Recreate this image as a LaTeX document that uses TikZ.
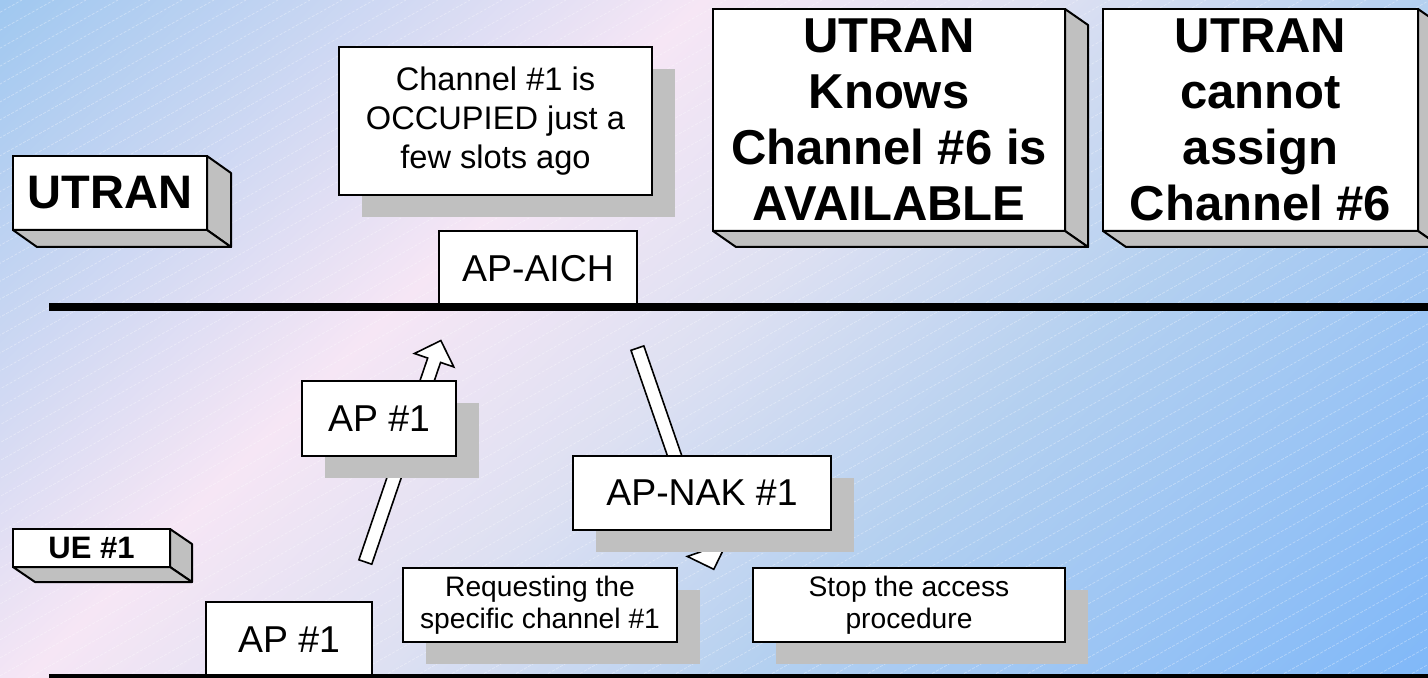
\documentclass[tikz,border=0pt]{standalone}
\usepackage{fontspec}
\setmainfont{Liberation Sans}
\usetikzlibrary{calc,%
	shapes.arrows,%
	shadows}

\definecolor{bgblueA}{HTML}{A0C8F0}
\definecolor{bgblueB}{HTML}{80B8F8}
\definecolor{bglight}{HTML}{B4D0F0}
\definecolor{bglav}{HTML}{DDE0F2}
\definecolor{bgpink}{HTML}{F6E6F5}
\definecolor{facegray}{HTML}{C0C0C0}
\definecolor{shadowgray}{HTML}{C0C0C0}

\pgfdeclareverticalshading{bgshade}{100bp}{color(0bp)=(bgblueB); color(23.9bp)=(bgblueB);
	color(40.7bp)=(bglight); color(50bp)=(bglav); color(58.7bp)=(bgpink);
	color(76.1bp)=(bgblueA); color(100bp)=(bgblueA)}

\newcommand{\fsz}[2]{\fontsize{#1}{#2}\selectfont}
\newcommand{\boxbevel}[3]{%
	\draw[face] (#1.north east) -- ++(#2,#3) -- ($(#1.south east)+(#2,#3)$) -- (#1.south east) -- cycle;
	\draw[face] (#1.south west) -- (#1.south east) -- ++(#2,#3) -- ($(#1.south west)+(#2,#3)$) -- cycle;}

\begin{document}
\begin{tikzpicture}[x=0.5pt,y=-0.5pt,
		front/.style={draw, fill=white, line width=1pt, inner sep=0pt, outer sep=0pt, align=center},
		shadowbox/.style={front, drop shadow={shadow xshift=11.5pt, shadow yshift=-11pt, fill=shadowgray, opacity=1}},
		face/.style={draw, fill=facegray, line width=1pt, line join=round},
		rail/.style={line width=4pt},
		hatch/.style={white, opacity=0.35, line width=0.35pt, dash pattern=on 1.5pt off 0.8pt},
		blockarrow/.style={single arrow, draw, fill=white, line width=0.8pt, inner sep=3pt,
			single arrow head extend=7pt, minimum width=20pt, minimum height=117pt, sloped, allow upside down}]
			
			\useasboundingbox (0,0) rectangle (1428,678);
			\clip (0,0) rectangle (1428,678);
			% background
			\shade[shading=bgshade, shading angle=45] (0,-375) rectangle (1428,1053);
			\foreach \i in {0,...,84}
				\draw[hatch] ({-1220+32*\i},678) -- ++(1210,-678);
			
			% block arrows
			\coordinate (upS) at (364,566);
			\coordinate (upE) at (440,343);
			\coordinate (dnS) at (636,344);
			\coordinate (dnE) at (713,567);
			\path (upS) -- (upE) node[blockarrow, midway] (uparr) {};
			\path (dnS) -- (dnE) node[blockarrow, midway] (dnarr) {};
			
			% UTRAN side
			\node[front, minimum width=97pt, minimum height=37pt, font=\fsz{23.5}{26}\bfseries] (utran) at (110,193) {UTRAN};
			\node[front, minimum width=176pt, minimum height=111pt, font=\fsz{24.5}{28}\bfseries] (knows) at (889,120)
				{UTRAN\\Knows\\Channel \#6 is\\AVAILABLE};
			\node[front, minimum width=157.5pt, minimum height=111pt, font=\fsz{24.5}{28}\bfseries] (cannot) at (1260.5,120)
				{UTRAN\\cannot\\assign\\Channel \#6};
			\node[shadowbox, minimum width=156.5pt, minimum height=74pt, font=\fsz{16.3}{19.5}] (occupied) at (495.5,121)
				{Channel \#1 is\\OCCUPIED just a\\few slots ago};
			\node[front, minimum width=99pt, minimum height=38pt, font=\fsz{18.7}{20}] (aich) at (538,269) {AP-AICH};
			
			% messages
			\node[shadowbox, minimum width=77pt, minimum height=37.5pt, font=\fsz{18.7}{20}] (apup) at (379,418.5) {AP \#1};
			\node[shadowbox, minimum width=129pt, minimum height=37pt, font=\fsz{18.7}{20}] (nak) at (702,493) {AP-NAK \#1};
			\node[shadowbox, minimum width=137pt, minimum height=37pt, font=\fsz{14.1}{16}] (req) at (540,605)
				{Requesting the\\specific channel \#1};
			\node[shadowbox, minimum width=156pt, minimum height=37pt, font=\fsz{14.1}{16}] (stop) at (909,605)
				{Stop the access\\procedure};
			
			% UE side
			\node[front, minimum width=78.5pt, minimum height=19pt, font=\fsz{15.5}{17}\bfseries] (ue) at (91.5,548) {UE \#1};
			\node[front, minimum width=83pt, minimum height=38pt, font=\fsz{18.7}{20}] (apue) at (289,640) {AP \#1};
			
			\boxbevel{utran}{24}{17}
			\boxbevel{knows}{23}{16}
			\boxbevel{cannot}{23}{16}
			\boxbevel{ue}{22}{15}
			
			% time lines
			\coordinate (topL) at (49,307);
			\coordinate (topR) at (1428,307);
			\coordinate (botL) at (49,678);
			\coordinate (botR) at (1428,678);
			\draw[rail] (topL) -- (topR);
			\draw[rail] (botL) -- (botR);
			\end{tikzpicture}
\end{document}
